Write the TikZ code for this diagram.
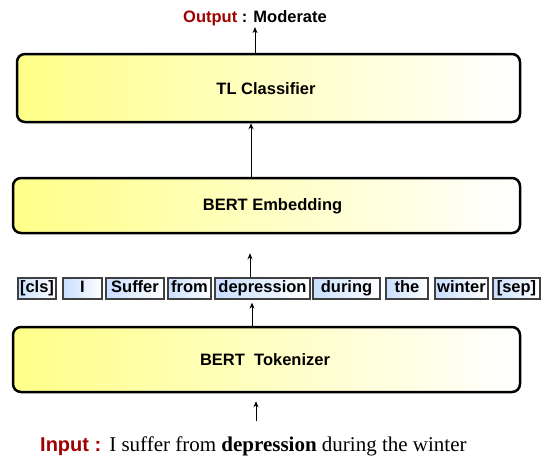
\documentclass[tikz,border=0pt]{standalone}
\usepackage{fontspec}
\setmainfont{Liberation Serif}
\setsansfont{Liberation Sans}
\usetikzlibrary{arrows.meta}
\definecolor{boxyellow}{RGB}{255,255,136}
\definecolor{tokblue}{RGB}{200,222,255}
\definecolor{darkred}{RGB}{160,0,0}
\begin{document}
\begin{tikzpicture}[x=1pt,y=-1pt,
  stage/.style={draw=black, line width=2.5pt, rounded corners=8pt,
    left color=boxyellow, right color=white, inner sep=0pt},
  lbl/.style={font=\sffamily\bfseries\fontsize{16.5}{19}\selectfont, inner sep=0pt},
  tok/.style={draw=black!75, line width=1.3pt, left color=tokblue, right color=white,
    minimum height=21pt, inner sep=0pt, text height=12pt, text depth=3.5pt,
    font=\sffamily\bfseries\fontsize{16.5}{19}\selectfont},
  arr/.style={-{Stealth[length=6pt,width=5pt]}, line width=0.8pt}]
\fill[white] (0,0) rectangle (545,459);
\useasboundingbox (0,0) rectangle (545,459);

% processing stages
\node[stage, minimum width=503pt, minimum height=68pt] (tl) at (268.5,88) {};
\node[stage, minimum width=507pt, minimum height=55pt] (emb) at (266.5,205.5) {};
\node[stage, minimum width=507pt, minimum height=65pt] (tk) at (266.5,359.5) {};
\node[lbl, anchor=base] (tlL) at (266,94) {TL Classifier};
\node[lbl, anchor=base] (embL) at (272.5,210) {BERT Embedding};
\node[lbl, anchor=base] (tkL) at (265,365) {BERT\ \ Tokenizer};

% tokens
\node[tok, minimum width=38pt] (tCls) at (37,288.5) {[cls]};
\node[tok, minimum width=39pt] (tI) at (82.5,288.5) {I};
\node[tok, minimum width=58pt] (tSuf) at (135,288.5) {Suffer};
\node[tok, minimum width=43pt] (tFrom) at (189.5,288.5) {from};
\node[tok, minimum width=95pt] (tDep) at (262.5,288.5) {depression};
\node[tok, minimum width=67pt] (tDur) at (346.5,288.5) {during};
\node[tok, minimum width=42pt] (tThe) at (407,288.5) {the};
\node[tok, minimum width=53pt] (tWin) at (461.5,288.5) {winter};
\node[tok, minimum width=47pt] (tSep) at (516.5,288.5) {[sep]};

% output and input texts
\node[lbl, anchor=base] (out) at (255,22) {\textcolor{darkred}{Output} : Moderate};
\node[anchor=base west, inner sep=0pt] (inp) at (40,451)
  {{\sffamily\bfseries\fontsize{20}{23}\selectfont\textcolor{darkred}{Input :}}\hspace{8pt}%
   {\fontsize{21}{25}\selectfont I suffer from \textbf{depression} during the winter}};

% connectors
\coordinate (inTail) at (256,421);
\coordinate (aLow) at ([xshift=-10.5pt]tDep.south);
\coordinate (aUp) at ([xshift=-12.5pt]tDep.north);
\coordinate (eUp) at ([xshift=-15.5pt]emb.north);
\draw[arr, shorten >=8pt] (inTail) -- (inTail |- tk.south);
\draw[arr, shorten >=3pt] (aLow |- tk.north) -- (aLow);
\draw[arr, shorten >=19pt] (aUp) -- (aUp |- emb.south);
\draw[arr] (eUp) -- (eUp |- tl.south);
\draw[arr, shorten >=1.5pt] (out.south |- tl.north) -- (out.south);
\end{tikzpicture}
\end{document}
